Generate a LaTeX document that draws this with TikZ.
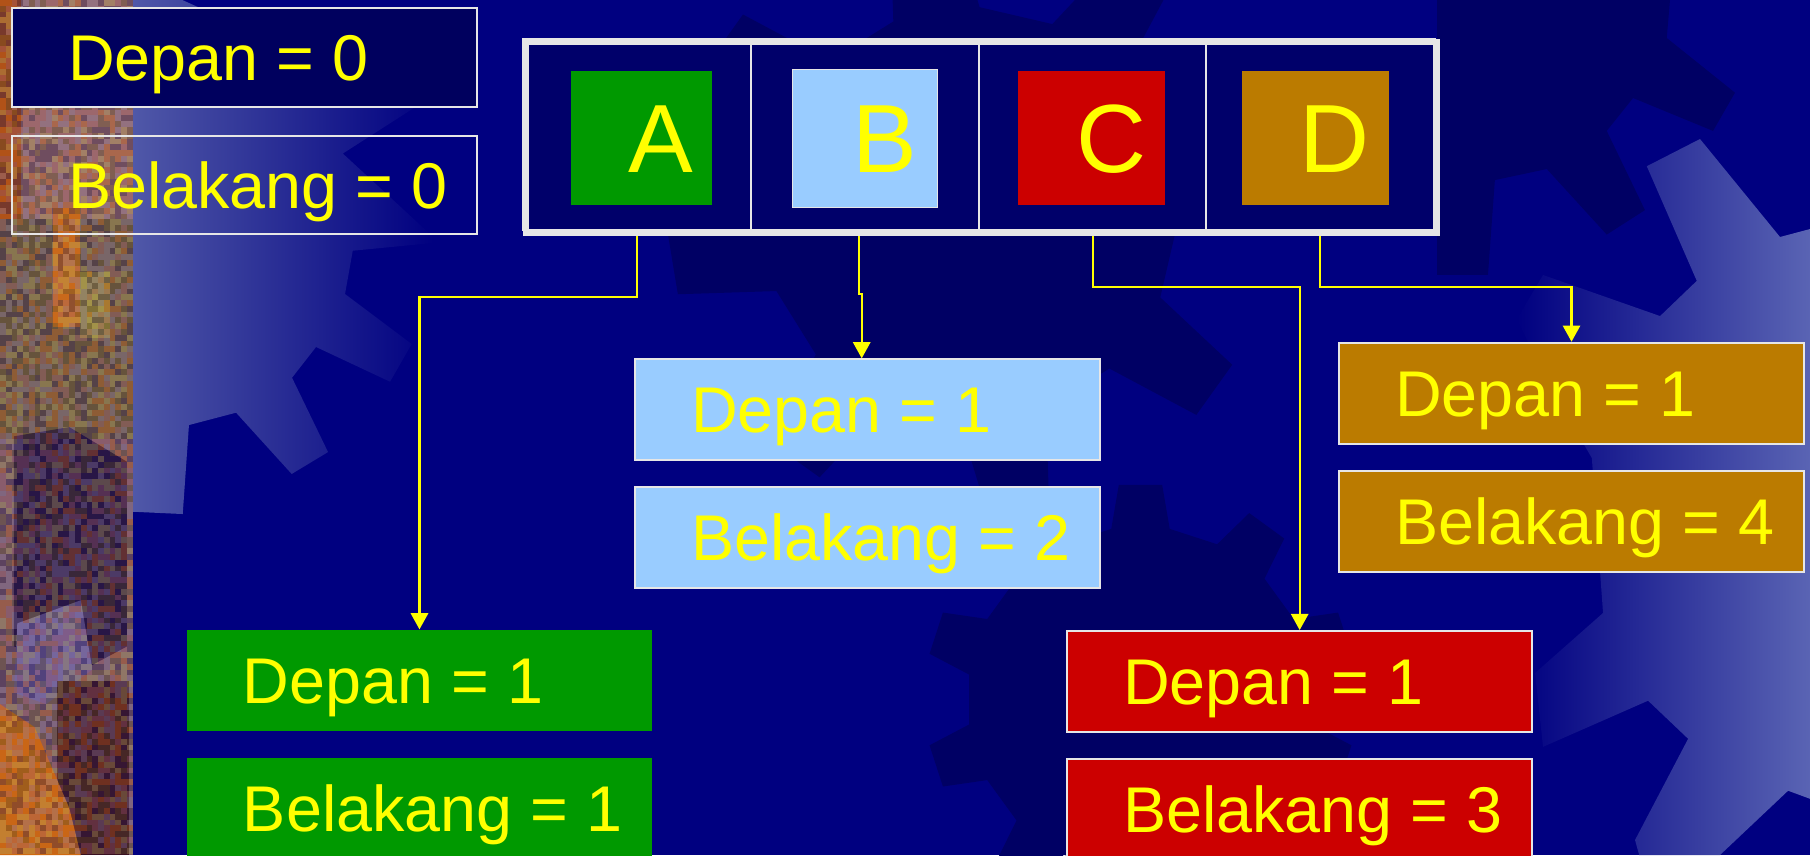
\documentclass[tikz,border=0pt]{standalone}
\usepackage{fontspec}
\setmainfont{Liberation Sans}
\usetikzlibrary{arrows.meta}
\definecolor{bgnavy}{HTML}{000080}
\definecolor{darknavy}{HTML}{00005E}
\definecolor{geardark}{HTML}{000064}
\definecolor{lgL}{HTML}{5058A8}
\definecolor{lgR}{HTML}{5A64B4}
\definecolor{cellfill}{HTML}{00006A}
\definecolor{frameC}{HTML}{E6E6E6}
\definecolor{gGreen}{HTML}{009900}
\definecolor{lBlue}{HTML}{99CCFF}
\definecolor{rRed}{HTML}{CC0000}
\definecolor{oGold}{HTML}{BB7B00}
\definecolor{yel}{HTML}{FFFF00}
\definecolor{nza}{HTML}{C06020}
\definecolor{nzb}{HTML}{8A7AA0}
\definecolor{nzc}{HTML}{5A4A30}
\definecolor{nzd}{HTML}{A06070}
\definecolor{nze}{HTML}{302050}
\definecolor{nzf}{HTML}{B0A060}
\definecolor{stA}{HTML}{7A5A6A}
\definecolor{stB}{HTML}{9A6C6A}
\definecolor{stC}{HTML}{A84A14}
\definecolor{stD}{HTML}{D07018}
\definecolor{stE}{HTML}{9A8A3A}
\definecolor{stF}{HTML}{6E5A44}
\definecolor{stG}{HTML}{241040}
\definecolor{stH}{HTML}{6A5A9A}
\definecolor{stI}{HTML}{3A1020}
\definecolor{stJ}{HTML}{D06A10}
\newcommand{\boxtext}[1]{\makebox[201.5pt][l]{\hspace*{24.3pt}#1}}
\begin{document}
\begin{tikzpicture}[x=0.5pt,y=-0.5pt,
  valbox/.style={rectangle, inner sep=0pt, anchor=north west, minimum width=201.5pt,
    minimum height=43.75pt, text height=20pt, text depth=0pt, text=yel,
    font=\fontsize{28}{30}\selectfont, line width=0.9pt},
  cell/.style={rectangle, draw=frameC, line width=1pt, fill=cellfill, inner sep=0pt,
    minimum width=98.8pt, minimum height=82.9pt},
  sq/.style={rectangle, inner sep=0pt, text=yel, font=\fontsize{42}{44}\selectfont,
    text height=30pt, text depth=0pt, minimum height=58.25pt},
  conn/.style={draw=yel, line width=0.9pt, -{Triangle[width=7.5pt,length=7pt]}},
]
\useasboundingbox (0,0) rectangle (1568,740.7);
\fill[bgnavy] (0,0) rectangle (1568,740.7);

% dark background gears
\begin{scope}[shift={(840,186)}]
\fill[geardark] ({35.6-0.27*45}:180) \foreach \k in {0,...,7}{
  -- ({35.6+\k*45-0.27*45}:180) -- ({35.6+\k*45-0.13*45}:262)
  -- ({35.6+\k*45+0.13*45}:262) -- ({35.6+\k*45+0.27*45}:180) } -- cycle;
\end{scope}
\begin{scope}[shift={(988,606)}]
\fill[geardark] ({-90-0.27*36}:150) \foreach \k in {0,...,9}{
  -- ({-90+\k*36-0.27*36}:150) -- ({-90+\k*36-0.16*36}:187)
  -- ({-90+\k*36+0.16*36}:187) -- ({-90+\k*36+0.27*36}:150) } -- cycle;
\end{scope}
\fill[geardark] (1245,0) -- (1446.7,0) -- (1443.9,32.9) -- (1503,80.3) -- (1484,113.4)
  -- (1414.7,84.9) -- (1391.9,113.4) -- (1425,182) -- (1391.9,203.2) -- (1340,146.4)
  -- (1295,156) -- (1289,238.2) -- (1245,238.2) -- cycle;

% light gears
\shade[left color=lgL, right color=bgnavy] (115,0) -- (158,0) -- (361,92) -- (297,133)
  -- (375,205) -- (375,210.5) -- (305.6,217.2) -- (298.9,254.7) -- (356.7,298)
  -- (337.9,330.7) -- (273.8,300.6) -- (253,327.2) -- (284.2,391.6) -- (252.7,410.6)
  -- (204.5,357.5) -- (163.7,368.2) -- (158.3,445.3) -- (115,443.3) -- cycle;
\shade[left color=bgnavy, right color=lgR] (1568,198.4) -- (1542,205.3) -- (1472.7,120.4)
  -- (1426.6,144) -- (1469.9,243.3) -- (1438.1,273.8) -- (1336.7,238.2) -- (1314,276.4)
  -- (1340,330) -- (1379,396.8) -- (1388.7,531) -- (1329.8,583) -- (1336.7,647)
  -- (1427.7,607) -- (1462.4,640) -- (1416.4,727.7) -- (1420,740.7) -- (1490,740.7)
  -- (1549,685) -- (1568,692) -- cycle;

% textured left strip
\fill[stA] (0,0) rectangle (115,740.7);
\fill[stB] (18,0) rectangle (115,190);
\fill[stC] (0,0) rectangle (18,200);
\fill[stF] (0,190) rectangle (115,380);
\fill[stD] (46,180) rectangle (69,283);
\fill[stE] (69,236) rectangle (95,293);
\fill[stG] (12,378) -- (60,370) -- (110,400) -- (110,560) -- (80,576) -- (12,560) -- cycle;
\fill[stH] (15,540) -- (70,520) -- (80,580) -- (40,610) -- (12,600) -- cycle;
\fill[stI] (49,590) rectangle (112,740.7);
\fill[stJ] (0,610) -- (30,630) -- (60,700) -- (70,740.7) -- (0,740.7) -- cycle;
\pgfmathsetseed{4242}
\pgfmathdeclarerandomlist{noise}{{nza}{nzb}{nzc}{nzd}{nze}{nzf}}
\foreach \i in {0,...,22}{
  \foreach \j in {0,...,147}{
    \pgfmathrandomitem{\c}{noise}
    \fill[\c, opacity=0.4] (\i*5,\j*5) rectangle ++(5,5);
  }
}

% connector helper coordinates
\coordinate (hA) at (0,257.5);
\coordinate (hB) at (0,255);
\coordinate (hC) at (0,248.4);
\coordinate (bx1) at (744.2,0);
\coordinate (bx2) at (746.5,0);

% frame cells
\node[cell] (cellA) at (551.7,116.6) {};
\node[cell] (cellB) at (749.3,116.6) {};
\node[cell] (cellC) at (946.7,116.6) {};
\node[cell] (cellD) at (1143.8,116.6) {};

% value boxes
\node[valbox, fill=darknavy, draw=frameC, minimum height=43pt] (d0) at (9.5,6) {\boxtext{Depan = 0}};
\node[valbox, draw=frameC, minimum height=42.5pt] (b0) at (9.5,117) {\boxtext{Belakang = 0}};
\node[valbox, fill=gGreen] (gD) at (161,545.2) {\boxtext{Depan = 1}};
\node[valbox, fill=gGreen] (gB) at (161,656) {\boxtext{Belakang = 1}};
\node[valbox, fill=lBlue, draw=frameC] (lD) at (549.3,310.4) {\boxtext{Depan = 1}};
\node[valbox, fill=lBlue, draw=frameC] (lB) at (549.3,421) {\boxtext{Belakang = 2}};
\node[valbox, fill=rRed, draw=frameC] (rD) at (923.5,545.8) {\boxtext{Depan = 1}};
\node[valbox, fill=rRed, draw=frameC] (rB) at (923.5,656.7) {\boxtext{Belakang = 3}};
\node[valbox, fill=oGold, draw=frameC] (oD) at (1159,296) {\boxtext{Depan = 1}};
\node[valbox, fill=oGold, draw=frameC] (oB) at (1159,407) {\boxtext{Belakang = 4}};

% connectors
\draw[conn] (cellA.south) -- (cellA.south |- hA) -| (gD.north);
\draw[conn] (cellB.south -| bx1) -- (bx1 |- hB) -- (bx2 |- hB) -- (lD.north -| bx2);
\draw[conn] (cellC.south) -- (cellC.south |- hC) -| (rD.north);
\draw[conn] (cellD.south) -- (cellD.south |- hC) -| (oD.north);

% outer frame
\node[draw=frameC, line width=2.6pt, inner sep=0pt, anchor=north west,
  minimum width=394.75pt, minimum height=82.9pt] (frame) at (452.75,33.7) {};

% coloured squares
\node[sq, fill=gGreen, minimum width=61pt] (sqA) at (555.7,119.75) {\hspace*{17pt}A};
\node[sq, fill=lBlue, draw=frameC, line width=0.6pt, minimum width=62.6pt, minimum height=59.8pt] (sqB) at (749.3,119.8) {\hspace*{17pt}B};
\node[sq, fill=rRed, minimum width=63.5pt] (sqC) at (945.5,119.75) {\hspace*{17pt}C};
\node[sq, fill=oGold, minimum width=63.5pt] (sqD) at (1139.5,119.75) {\hspace*{17pt}D};
\end{tikzpicture}
\end{document}
